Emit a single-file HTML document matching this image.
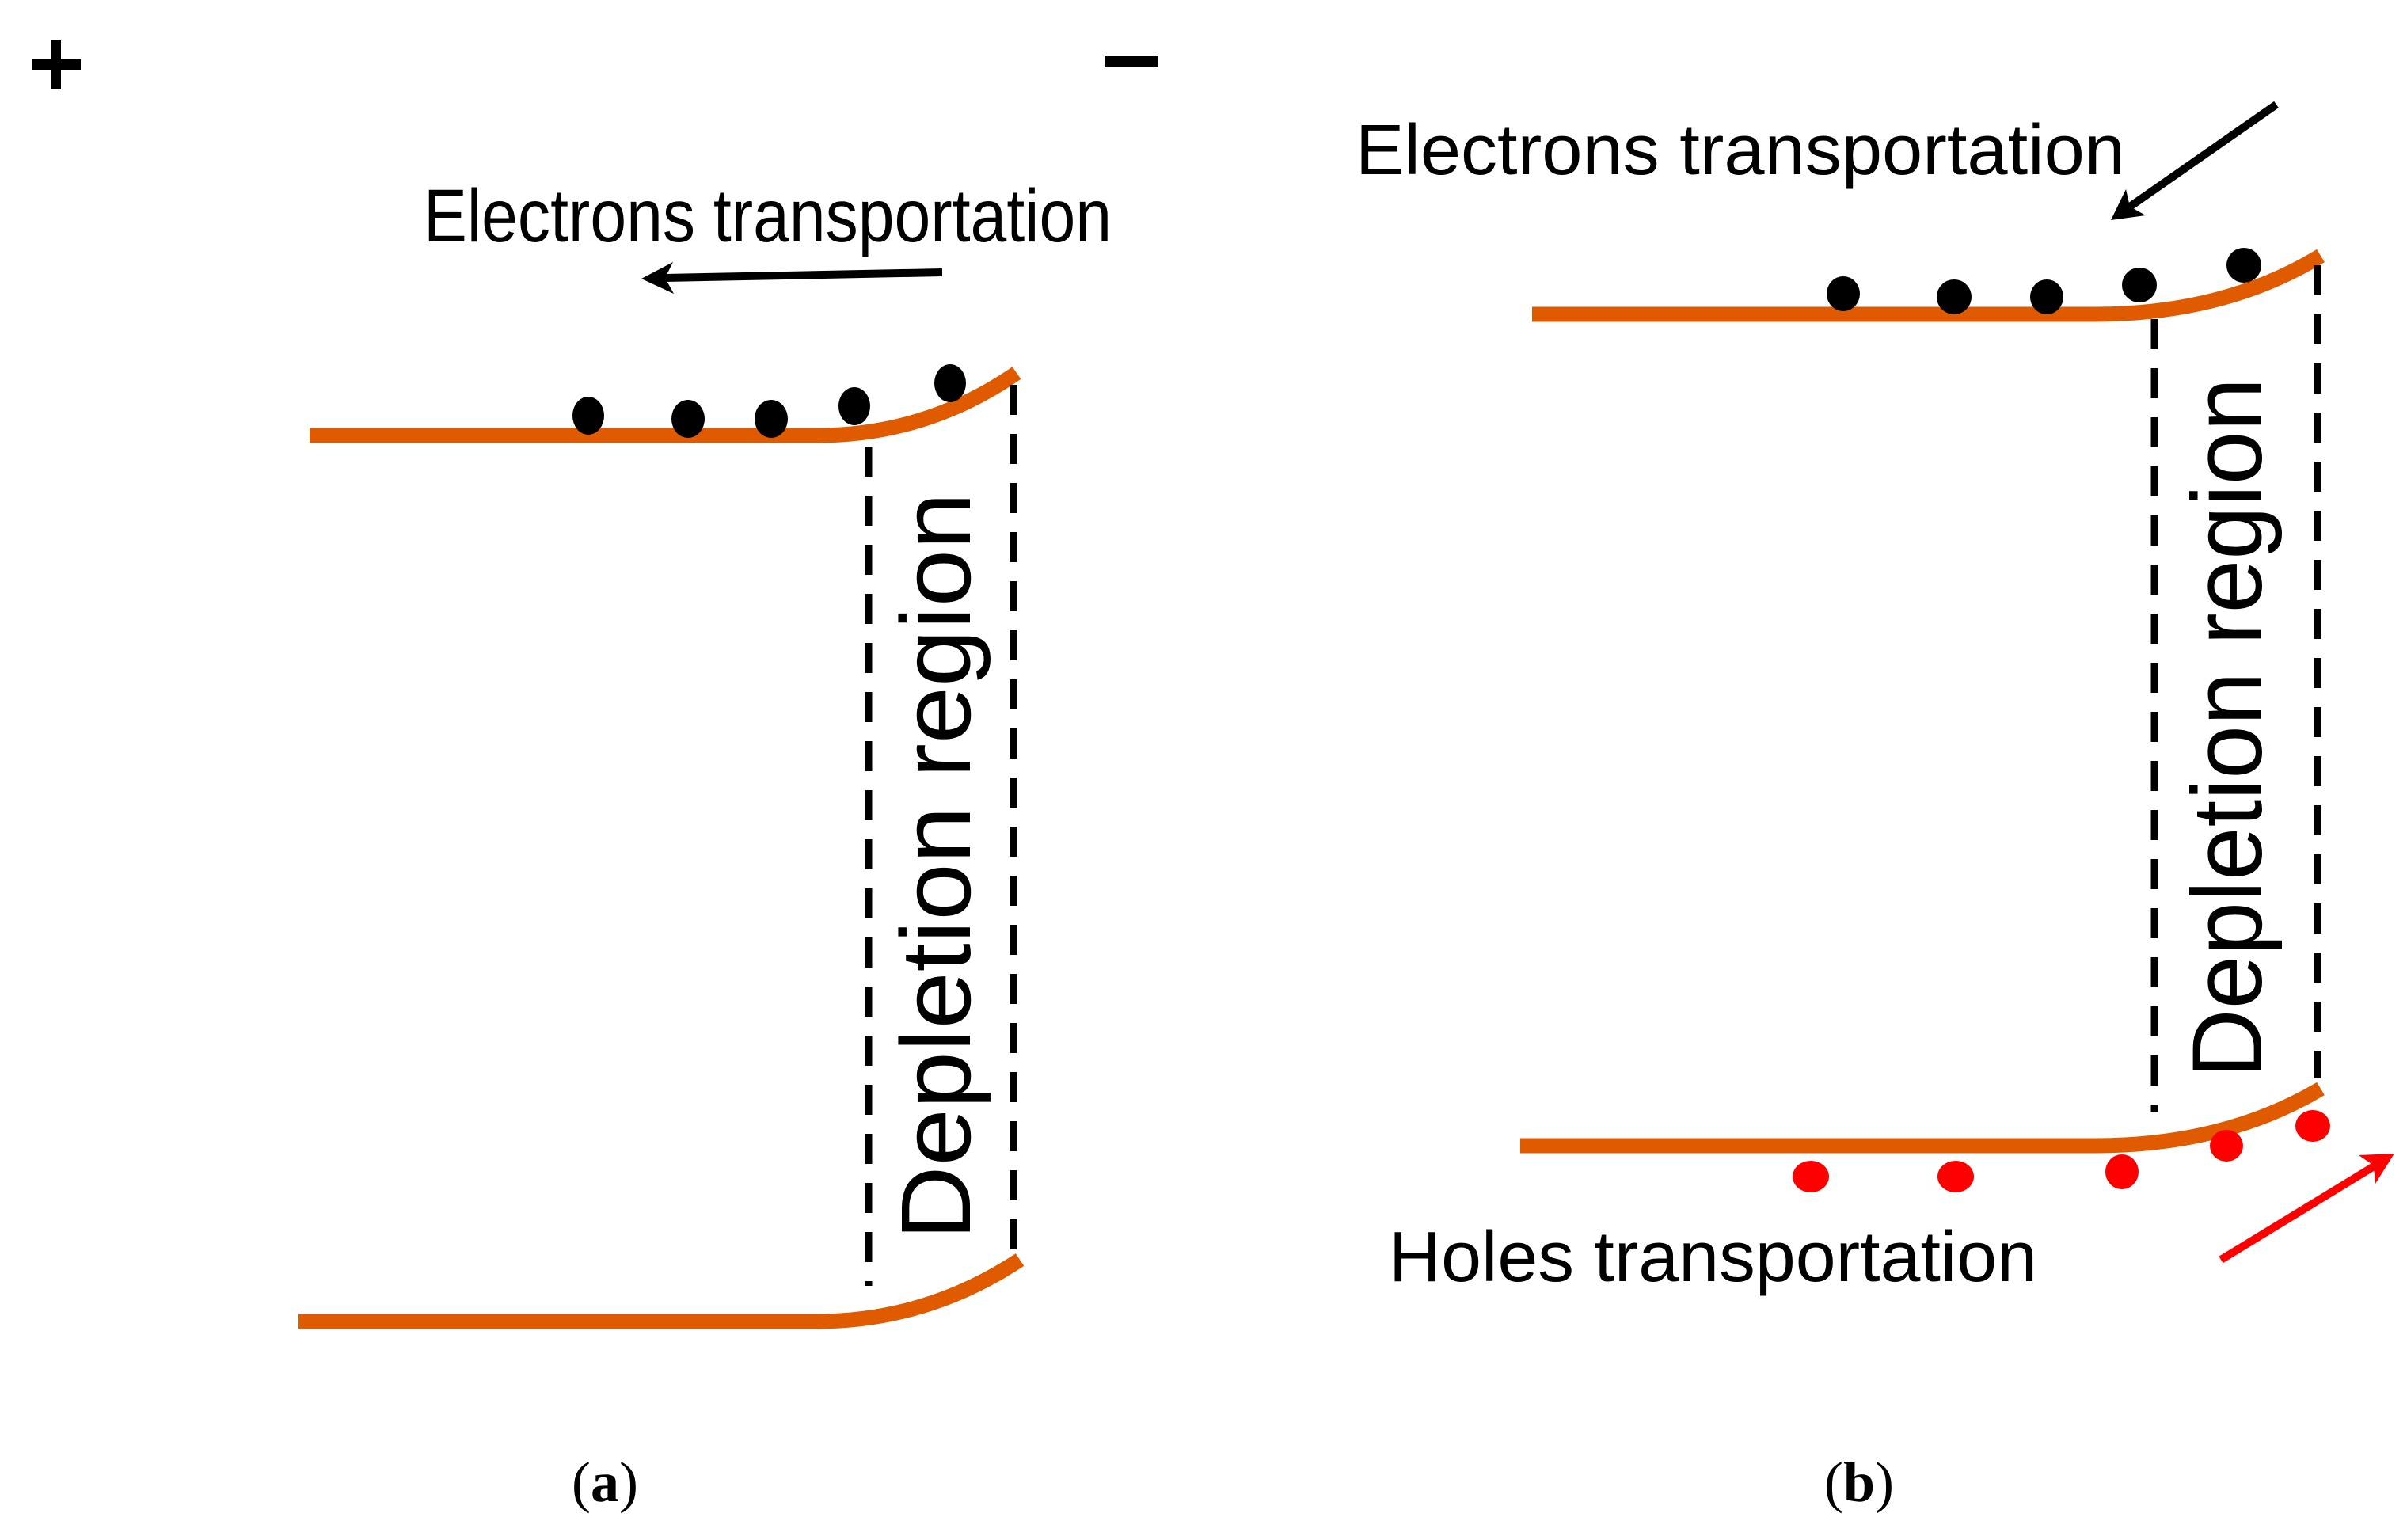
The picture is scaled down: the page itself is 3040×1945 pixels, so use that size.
<!DOCTYPE html>
<html><head><meta charset="utf-8"><style>html,body{margin:0;padding:0;background:#fff}svg{display:block}</style></head>
<body>
<svg width="3040" height="1945" viewBox="0 0 3040 1945" xmlns="http://www.w3.org/2000/svg">
<g font-family="Liberation Sans, sans-serif" fill="#000">
<!-- plus / minus -->
<rect x="40" y="75" width="62" height="13"/><rect x="64" y="51" width="13" height="62"/>
<rect x="1395" y="71" width="68" height="14"/>
<!-- left panel -->
<text x="535" y="305" font-size="95" textLength="869" lengthAdjust="spacingAndGlyphs">Electrons transportation</text>
<line x1="1190" y1="344" x2="840" y2="351" stroke="#000" stroke-width="10"/>
<path d="M810,352 L850,331 L840,351 L851,371 Z" fill="#000"/>
<path d="M391,550 L1031,550 Q1170,550 1284,471" stroke="#e05a00" stroke-width="19" fill="none"/>
<path d="M377,1669 L1031,1669 Q1170,1669 1288,1591" stroke="#e05a00" stroke-width="19" fill="none"/>
<g fill="#000"><ellipse cx="743" cy="525" rx="20" ry="24"/><ellipse cx="869" cy="529" rx="21" ry="24"/><ellipse cx="974" cy="529" rx="21" ry="24"/><ellipse cx="1079" cy="513" rx="20" ry="24"/><ellipse cx="1200" cy="484" rx="20" ry="24"/></g>
<line x1="1097" y1="564" x2="1097" y2="1624" stroke="#000" stroke-width="9" stroke-dasharray="38,24"/>
<line x1="1280" y1="486" x2="1280" y2="1585" stroke="#000" stroke-width="9" stroke-dasharray="38,24"/>
<text transform="translate(1225,1566) rotate(-90)" font-size="125" textLength="944" lengthAdjust="spacingAndGlyphs">Depletion region</text>
<text x="764" y="1896" font-family="Liberation Serif, serif" font-size="72" text-anchor="middle">(<tspan font-weight="bold">a</tspan>)</text>
<!-- right panel -->
<text x="1712" y="220" font-size="90" textLength="972" lengthAdjust="spacingAndGlyphs">Electrons transportation</text>
<line x1="2875" y1="132" x2="2690" y2="261" stroke="#000" stroke-width="10"/>
<path d="M2666,278 L2685,239 L2690,261 L2710,272 Z" fill="#000"/>
<path d="M1935,397 L2645,397 Q2810,397 2931,323" stroke="#e05a00" stroke-width="19" fill="none"/>
<path d="M1920,1447 L2645,1447 Q2810,1447 2931,1375" stroke="#e05a00" stroke-width="19" fill="none"/>
<g fill="#000"><ellipse cx="2328" cy="371" rx="21" ry="22"/><ellipse cx="2468" cy="375" rx="22" ry="22"/><ellipse cx="2585" cy="375" rx="21" ry="22"/><ellipse cx="2702" cy="360" rx="22" ry="22"/><ellipse cx="2834" cy="335" rx="22" ry="22"/></g>
<g fill="#f00"><ellipse cx="2287" cy="1486" rx="23" ry="20"/><ellipse cx="2470" cy="1486" rx="23" ry="20"/><ellipse cx="2680" cy="1480" rx="21" ry="22"/><ellipse cx="2812" cy="1447" rx="21" ry="20"/><ellipse cx="2921" cy="1422" rx="22" ry="20"/></g>
<line x1="2721" y1="403" x2="2721" y2="1404" stroke="#000" stroke-width="9" stroke-dasharray="38,24"/>
<line x1="2927" y1="335" x2="2927" y2="1362" stroke="#000" stroke-width="9" stroke-dasharray="38,24"/>
<text transform="translate(2856,1362) rotate(-90)" font-size="125" textLength="885" lengthAdjust="spacingAndGlyphs">Depletion region</text>
<line x1="2805" y1="1591" x2="3000" y2="1472" stroke="#f00" stroke-width="10"/>
<path d="M3024,1457 L3000,1495 L2998,1472 L2979,1459 Z" fill="#f00"/>
<text x="1754" y="1618" font-size="90" textLength="819" lengthAdjust="spacingAndGlyphs">Holes transportation</text>
<text x="2348" y="1896" font-family="Liberation Serif, serif" font-size="72" text-anchor="middle">(<tspan font-weight="bold">b</tspan>)</text>
</g>
</svg>
</body></html>
